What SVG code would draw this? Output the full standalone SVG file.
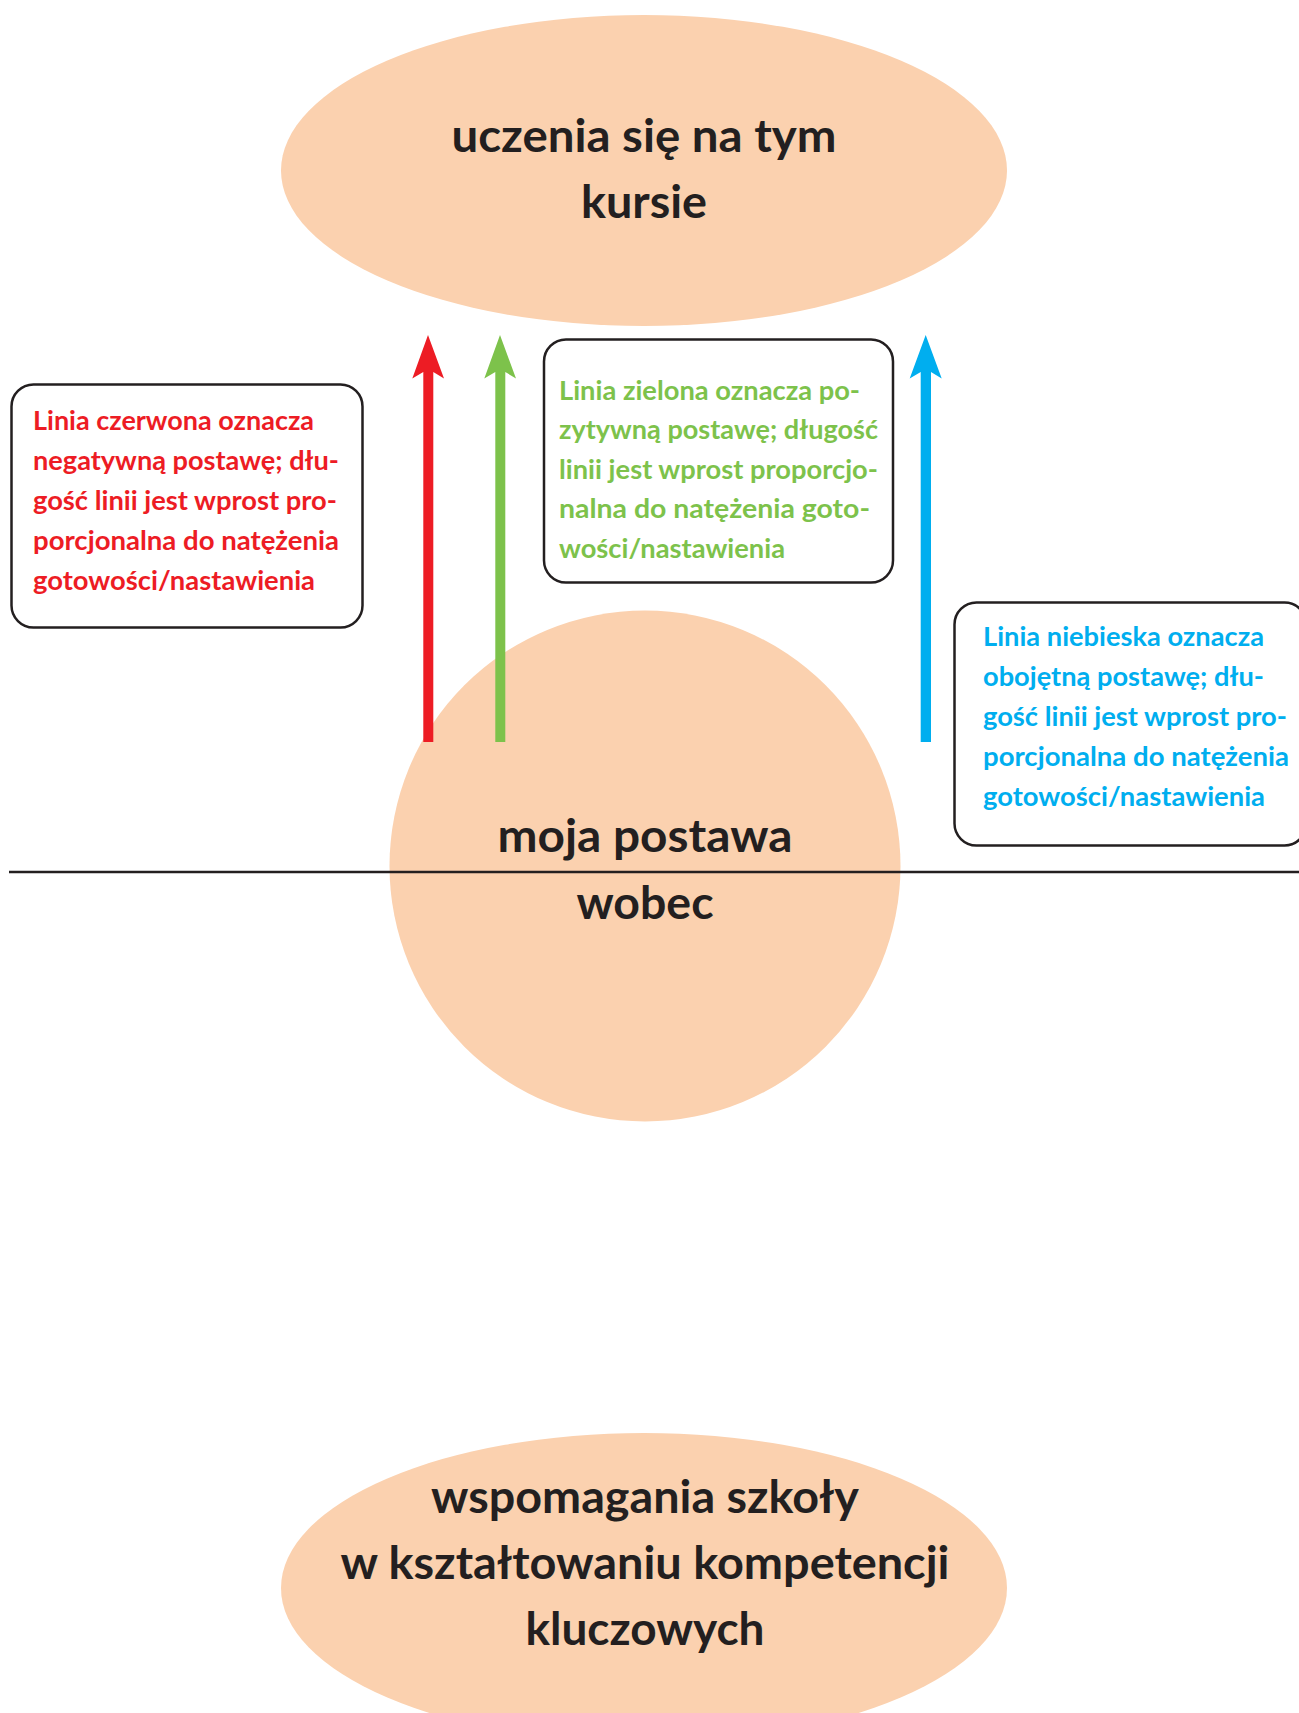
<svg xmlns="http://www.w3.org/2000/svg" width="1299" height="1713" viewBox="0 0 1299 1713">
<style>
.peach{fill:#FBD1AF;}
.title{font-family:Lato,"Open Sans","Liberation Sans",sans-serif;font-weight:bold;font-size:46px;fill:#231F20;text-anchor:middle;}
.box{fill:#FFFFFF;stroke:#231F20;stroke-width:2.5;}
.lbl{font-family:Lato,"Open Sans","Liberation Sans",sans-serif;font-weight:bold;font-size:26px;}
.red{fill:#ED1C24;}
.green{fill:#7DC24B;}
.blue{fill:#00AEEF;}
</style>
<rect width="1299" height="1713" fill="#FFFFFF"/>
<g id="node-top">
<ellipse class="peach" cx="644" cy="170.5" rx="363" ry="155.5"/>
<text class="title" x="644" y="152" textLength="385" lengthAdjust="spacingAndGlyphs">uczenia się na tym</text>
<text class="title" x="644" y="218" textLength="126" lengthAdjust="spacingAndGlyphs">kursie</text>
</g>
<g id="node-center">
<circle class="peach" cx="645" cy="866" r="255.5"/>
<text class="title" x="645" y="852" textLength="295" lengthAdjust="spacingAndGlyphs">moja postawa</text>
<text class="title" x="645" y="919" textLength="137" lengthAdjust="spacingAndGlyphs">wobec</text>
</g>
<g id="node-bottom">
<ellipse class="peach" cx="644" cy="1588" rx="363" ry="155"/>
<text class="title" x="645" y="1513" textLength="428" lengthAdjust="spacingAndGlyphs">wspomagania szkoły</text>
<text class="title" x="645" y="1579" textLength="609" lengthAdjust="spacingAndGlyphs">w kształtowaniu kompetencji</text>
<text class="title" x="645" y="1645" textLength="239" lengthAdjust="spacingAndGlyphs">kluczowych</text>
</g>
<g id="divider">
<line x1="9" y1="872" x2="1299" y2="872" stroke="#231F20" stroke-width="2.4"/>
</g>
<g id="connectors">
<path class="red" d="M428 335 L444 378.5 L433.3 372 L433.3 742 L423.3 742 L423.3 372 L412.3 378.5 Z"/>
<path class="green" d="M500 335 L516 378.5 L505.3 372 L505.3 742 L495.3 742 L495.3 372 L484.3 378.5 Z"/>
<path class="blue" d="M925.7 335 L941.7 378.5 L931 372 L931 742 L920.7 742 L920.7 372 L909.7 378.5 Z"/>
</g>
<g id="legend-red">
<rect class="box" x="11.5" y="384.5" width="351" height="243" rx="22"/>
<text class="lbl red" x="33" y="430" textLength="281" lengthAdjust="spacingAndGlyphs">Linia czerwona oznacza</text>
<text class="lbl red" x="33" y="470" textLength="306" lengthAdjust="spacingAndGlyphs">negatywną postawę; dłu-</text>
<text class="lbl red" x="33" y="510" textLength="304" lengthAdjust="spacingAndGlyphs">gość linii jest wprost pro-</text>
<text class="lbl red" x="33" y="550" textLength="306" lengthAdjust="spacingAndGlyphs">porcjonalna do natężenia</text>
<text class="lbl red" x="33" y="590" textLength="282" lengthAdjust="spacingAndGlyphs">gotowości/nastawienia</text>
</g>
<g id="legend-green">
<rect class="box" x="544" y="339.5" width="349" height="243" rx="22"/>
<text class="lbl green" x="559" y="400" textLength="301" lengthAdjust="spacingAndGlyphs">Linia zielona oznacza po-</text>
<text class="lbl green" x="559" y="439" textLength="319" lengthAdjust="spacingAndGlyphs">zytywną postawę; długość</text>
<text class="lbl green" x="559" y="479" textLength="319" lengthAdjust="spacingAndGlyphs">linii jest wprost proporcjo-</text>
<text class="lbl green" x="559" y="518" textLength="311" lengthAdjust="spacingAndGlyphs">nalna do natężenia goto-</text>
<text class="lbl green" x="559" y="558" textLength="226" lengthAdjust="spacingAndGlyphs">wości/nastawienia</text>
</g>
<g id="legend-blue">
<rect class="box" x="954.5" y="602.5" width="352" height="243" rx="22"/>
<text class="lbl blue" x="983" y="646" textLength="281" lengthAdjust="spacingAndGlyphs">Linia niebieska oznacza</text>
<text class="lbl blue" x="983" y="686" textLength="281" lengthAdjust="spacingAndGlyphs">obojętną postawę; dłu-</text>
<text class="lbl blue" x="983" y="726" textLength="304" lengthAdjust="spacingAndGlyphs">gość linii jest wprost pro-</text>
<text class="lbl blue" x="983" y="766" textLength="306" lengthAdjust="spacingAndGlyphs">porcjonalna do natężenia</text>
<text class="lbl blue" x="983" y="806" textLength="282" lengthAdjust="spacingAndGlyphs">gotowości/nastawienia</text>
</g>
</svg>
